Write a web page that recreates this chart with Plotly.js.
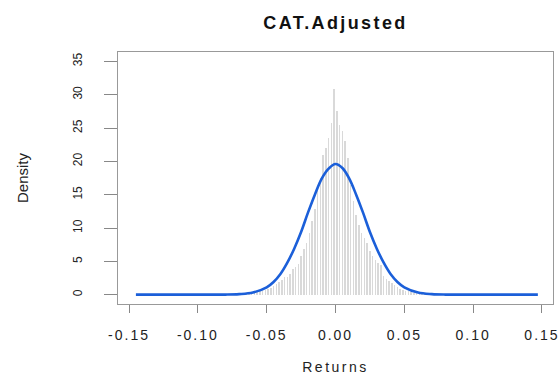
<!DOCTYPE html>
<html>
<head>
<meta charset="utf-8">
<script src="https://cdn.plot.ly/plotly-3.0.1.min.js"></script>
<style>
  html, body { margin: 0; padding: 0; background: #fff; }
  #chart { width: 559px; height: 375px; }
  .xtick text { letter-spacing: 2px; }
  .xtitle { letter-spacing: 2.5px; }
  .gtitle { letter-spacing: 2.4px; }
</style>
</head>
<body>
<div id="chart"></div>
<script>
// Histogram bins (centers, width 0.002) and densities
const binCenters = [
  -0.065, -0.063, -0.061, -0.059, -0.057, -0.055, -0.053, -0.051, -0.049, -0.047,
  -0.045, -0.043, -0.041, -0.039, -0.037, -0.035, -0.033, -0.031, -0.029, -0.027,
  -0.025, -0.023, -0.021, -0.019, -0.017, -0.015, -0.013, -0.011, -0.009, -0.007,
  -0.005, -0.003, -0.001, 0.001, 0.003, 0.005, 0.007, 0.009, 0.011, 0.013,
  0.015, 0.017, 0.019, 0.021, 0.023, 0.025, 0.027, 0.029, 0.031, 0.033,
  0.035, 0.037, 0.039, 0.041, 0.043, 0.045, 0.047, 0.049, 0.051, 0.053,
  0.055, 0.057, 0.059, 0.061, 0.063, 0.065
];
const densities = [
  0.15, 0.2, 0.25, 0.3, 0.4, 0.5, 0.6, 0.75, 0.85, 1.0,
  1.3, 1.6, 1.9, 2.2, 2.6, 2.7, 3.1, 3.8, 4.2, 4.6,
  5.8, 6.8, 7.8, 9.2, 11.0, 12.8, 15.6, 17.5, 21.0, 22.0,
  23.5, 25.7, 30.8, 27.6, 25.5, 24.5, 23.0, 20.5, 16.5, 14.0,
  12.0, 10.5, 9.2, 8.5, 7.8, 6.5, 5.8, 5.2, 4.8, 4.4,
  2.8, 2.4, 2.0, 1.7, 1.4, 1.1, 0.9, 0.7, 0.6, 0.5,
  0.4, 0.3, 0.3, 0.2, 0.15, 0.1
];
const binWidth = 0.002;

// Normal density curve
const curveX = [
  -0.145, -0.12, -0.10, -0.09, -0.08, -0.07, -0.06, -0.05, -0.045, -0.04,
  -0.035, -0.03, -0.025, -0.02, -0.015, -0.01, -0.005, 0.0, 0.005, 0.01,
  0.015, 0.02, 0.025, 0.03, 0.035, 0.04, 0.045, 0.05, 0.06, 0.07,
  0.08, 0.09, 0.10, 0.12, 0.147
];
const curveY = [
  0, 0, 0, 0, 0.01, 0.08, 0.32, 1.1, 1.9, 3.1,
  4.8, 6.9, 9.4, 12.3, 15.0, 17.4, 18.9, 19.6, 19.0, 17.4,
  15.0, 12.3, 9.4, 6.9, 4.8, 3.1, 1.9, 1.1, 0.32, 0.08,
  0.01, 0, 0, 0, 0
];

const xTicks = [-0.15, -0.10, -0.05, 0.00, 0.05, 0.10, 0.15];
const xTickLabels = ["-0.15", "-0.10", "-0.05", "0.00", "0.05", "0.10", "0.15"];
const yTicks = [0, 5, 10, 15, 20, 25, 30, 35];
const yTickLabels = ["0", "5", "10", "15", "20", "25", "30", "35"];

const FONT = "Liberation Sans, Arial, Helvetica, sans-serif";

const traces = [
  {
    type: "bar",
    x: binCenters,
    y: densities,
    width: binCenters.map(() => binWidth * 0.55),
    marker: { color: "#d9d9d9", line: { width: 0 } },
    hoverinfo: "skip",
    showlegend: false
  },
  {
    type: "scatter",
    mode: "lines",
    x: curveX,
    y: curveY,
    line: { color: "#1b5fd9", width: 2.6, shape: "spline", smoothing: 1 },
    hoverinfo: "skip",
    showlegend: false
  }
];

const layout = {
  width: 559,
  height: 375,
  margin: { l: 118, r: 6, t: 52, b: 71, pad: 0 },
  paper_bgcolor: "#ffffff",
  plot_bgcolor: "#ffffff",
  font: { family: FONT, color: "#222222" },
  title: {
    text: "<b>CAT.Adjusted</b>",
    font: { family: FONT, size: 18, color: "#111111" },
    x: 0.5, xanchor: "center", xref: "paper",
    y: 0.94, yanchor: "middle"
  },
  xaxis: {
    range: [-0.158, 0.158],
    tickmode: "array",
    tickvals: xTicks,
    ticktext: xTickLabels,
    ticks: "outside",
    ticklen: 8,
    tickwidth: 1,
    tickcolor: "#888888",
    tickfont: { family: FONT, size: 14, color: "#222222" },
    ticklabeloverflow: "allow",
    showgrid: false,
    zeroline: false,
    showline: true,
    linecolor: "#999999",
    linewidth: 1,
    mirror: true,
    ticklabelstandoff: 10,
    title: {
      text: "Returns",
      font: { family: FONT, size: 14, color: "#222222" },
      standoff: 20
    }
  },
  yaxis: {
    range: [-1.4, 36.4],
    tickmode: "array",
    tickvals: yTicks,
    ticktext: yTickLabels,
    tickangle: -90,
    ticks: "outside",
    ticklen: 13,
    tickwidth: 1,
    tickcolor: "#888888",
    tickfont: { family: FONT, size: 12, color: "#222222" },
    showgrid: false,
    zeroline: false,
    showline: true,
    linecolor: "#999999",
    linewidth: 1,
    mirror: true,
    ticklabelstandoff: 17,
    title: {
      text: "Density",
      font: { family: FONT, size: 15, color: "#222222" },
      standoff: 38
    }
  },
  bargap: 0
};

Plotly.newPlot("chart", traces, layout, { staticPlot: true, displayModeBar: false });
</script>
</body>
</html>
